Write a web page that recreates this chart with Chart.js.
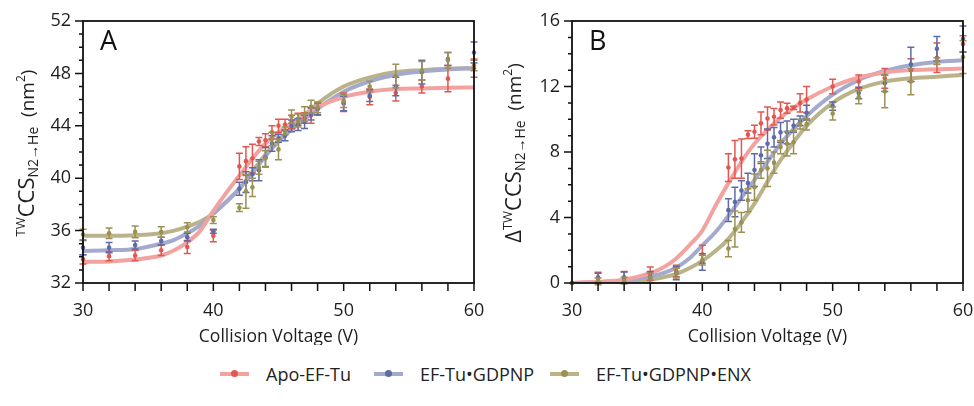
<!DOCTYPE html>
<html><head><meta charset="utf-8">
<script src="https://cdn.jsdelivr.net/npm/chart.js@4"></script>
<style>
body{margin:0;background:#fff;width:974px;height:406px;overflow:hidden;font-family:"Open Sans",sans-serif;position:relative}
#wa{position:absolute;left:0;top:0;width:487px;height:345px}
#wb{position:absolute;left:487px;top:0;width:487px;height:345px}
.item{position:absolute;top:362px;height:24px;display:flex;align-items:center;font-size:18px;color:#222;white-space:nowrap}
.sw{position:relative;width:29px;height:4px;margin-right:17px}
.sw i{position:absolute;left:11px;top:-2px;width:7px;height:7px;border-radius:50%}
</style></head>
<body>
<div id="wa"><canvas id="ca"></canvas></div>
<div id="wb"><canvas id="cb"></canvas></div>
<div id="legend"></div>
<script>
// ---------- data ----------
const voltages = [30,32,34,36,38,40,42,42.5,43,43.5,44,44.5,45,45.5,46,46.5,47,47.5,48,50,52,54,56,58,60];
const seriesNames = ['Apo-EF-Tu','EF-Tu\u2022GDPNP','EF-Tu\u2022GDPNP\u2022ENX'];

// Panel A: TW CCS (nm^2)
const apoA    = [33.8,34.05,34.1,34.5,34.75,35.6,40.9,41.3,41.5,42.8,42.9,43.5,44.0,44.1,44.3,44.5,44.6,44.8,45.3,45.8,46.2,46.5,47.0,47.6,48.4];
const apoAErr = [0.35,0.35,0.4,0.4,0.5,0.45,1.0,1.1,1.1,0.3,0.5,0.5,0.5,0.4,0.5,0.45,0.4,0.6,0.5,0.7,0.6,0.6,0.5,1.0,0.7];
const gdpA    = [34.7,34.7,34.9,35.2,35.5,35.95,39.2,39.7,40.3,40.6,41.6,42.65,43.05,43.25,44.0,44.1,44.3,44.9,45.3,45.7,46.3,47.0,48.1,49.1,49.6];
const gdpAErr = [0.55,0.4,0.3,0.3,0.3,0.15,0.5,0.8,0.5,0.8,0.75,0.6,0.3,0.4,0.45,0.45,0.5,0.45,0.45,0.55,0.45,0.7,0.9,0.5,0.8];
const enxA    = [35.7,35.8,35.9,35.9,36.25,36.8,37.75,39.0,39.3,40.8,41.5,43.0,42.2,43.6,44.7,44.4,44.9,45.45,45.4,45.9,47.0,47.8,48.2,49.0,48.6];
const enxAErr = [0.4,0.4,0.45,0.4,0.35,0.25,0.3,1.3,0.7,0.5,0.6,0.5,0.8,0.3,0.5,0.5,0.55,0.5,0.4,0.5,0.4,0.9,0.7,0.6,0.4];

// Panel B: delta TW CCS (nm^2)
const apoB    = [0,0.35,0.35,0.57,0.73,1.75,7.05,7.55,7.6,9.06,9.24,9.75,10.05,10.15,10.56,10.67,10.7,11.0,11.2,12.0,12.3,12.5,13.0,13.75,14.6];
const apoBErr = [0,0.3,0.35,0.4,0.35,0.55,0.85,1.15,1.2,0.24,0.4,0.7,0.7,0.5,0.5,0.3,0.1,0.55,0.8,0.45,0.4,0.6,0.7,0.9,0.5];
const gdpB    = [0,0.3,0.32,0.35,0.6,1.28,4.45,4.95,5.65,6.1,6.9,7.8,8.5,8.9,9.2,9.2,9.6,9.9,10.4,10.8,11.6,12.2,13.35,14.3,14.9];
const gdpBErr = [0,0.3,0.35,0.35,0.4,0.5,0.7,0.9,0.6,0.6,1.0,0.5,0.9,0.6,0.6,0.7,0.4,0.3,0.45,0.25,0.35,0.5,1.05,0.75,0.8];
const enxB    = [0,0.1,0.15,0.3,0.6,1.4,2.1,3.3,3.7,5.05,5.85,6.9,7.0,7.35,8.3,8.5,8.6,9.7,9.7,10.35,11.35,11.7,12.3,13.55,13.8];
const enxBErr = [0,0.2,0.2,0.3,0.3,0.3,0.5,1.1,0.6,0.7,0.8,0.5,1.1,0.65,0.4,0.75,0.7,0.3,0.35,0.4,0.4,1.0,0.8,0.2,1.0];

// fitted curves
const fitV     = [30,32,34,36,37,38,39,40,41,42,43,44,45,46,47,48,50,52,54,56,58,60];
const apoFitA  = [33.6,33.65,33.8,34.1,34.5,35.1,36.0,37.5,38.9,40.2,41.5,42.65,43.5,44.2,44.9,45.45,46.2,46.6,46.8,46.85,46.9,46.93];
const gdpFitA  = [34.45,34.5,34.6,35.0,35.3,35.8,36.4,37.3,38.2,39.2,40.4,41.7,42.8,43.7,44.5,45.3,46.6,47.4,47.9,48.15,48.3,48.4];
const enxFitA  = [35.6,35.6,35.65,35.8,36.0,36.3,36.7,37.3,38.2,39.2,40.5,41.8,42.9,43.9,44.8,45.7,47.0,47.7,48.1,48.25,48.35,48.4];
const apoFitB  = [0.02,0.08,0.2,0.6,0.95,1.5,2.3,3.2,4.7,6.1,7.4,8.5,9.35,10.1,10.7,11.2,12.0,12.55,12.85,13.0,13.05,13.1];
const gdpFitB  = [0,0.05,0.15,0.4,0.6,0.95,1.5,2.3,3.1,4.1,5.2,6.3,7.4,8.5,9.4,10.2,11.5,12.4,12.95,13.3,13.5,13.6];
const enxFitB  = [0,0.02,0.06,0.2,0.35,0.55,0.9,1.35,1.95,2.7,3.7,4.85,6.2,7.5,8.6,9.6,11.0,11.85,12.3,12.5,12.6,12.7];

const xTickMarks = [30,32,34,36,38,40,42,44,46,48,50,52,54,56,58,60];
const xTickLabels = [30,40,50,60];
const yTickLabelsA = [32,36,40,44,48,52];
const yTickLabelsB = [0,4,8,12,16];

// ---------- styles ----------
const dataColors  = ['#e2574f','#5f6aa6','#9a9152'];
const curveColors = ['#f2a3a0','#a4aacd','#bab389'];
const FONT = '"Open Sans", sans-serif';
const TXT = '#1e1e1e';

const errPlugin = {
  id:'errbars',
  afterDatasetDraw(chart, args){
    const ds = chart.data.datasets[args.index];
    if(!ds.err) return;
    const ctx = chart.ctx, xs = chart.scales.x, ys = chart.scales.y;
    ctx.save();
    ctx.strokeStyle = ds.pointBackgroundColor;
    ctx.lineWidth = 1.5;
    ds.data.forEach((p,i)=>{
      const e = ds.err[i]; if(!e) return;
      const px = xs.getPixelForValue(p.x);
      const y1 = ys.getPixelForValue(p.y+e), y2 = ys.getPixelForValue(p.y-e);
      ctx.beginPath();
      ctx.moveTo(px,y1); ctx.lineTo(px,y2);
      ctx.moveTo(px-3.5,y1); ctx.lineTo(px+3.5,y1);
      ctx.moveTo(px-3.5,y2); ctx.lineTo(px+3.5,y2);
      ctx.stroke();
    });
    ctx.restore();
  }
};

function drawRich(ctx, parts, cx, cy){
  ctx.save();
  ctx.translate(cx, cy);
  ctx.rotate(-Math.PI/2);
  let total = 0;
  parts.forEach(p=>{ ctx.font = p.s+'px '+FONT; p.w = ctx.measureText(p.t).width; total += p.w; });
  let x = -total/2;
  ctx.textBaseline = 'alphabetic';
  ctx.fillStyle = TXT;
  parts.forEach(p=>{ ctx.font = p.s+'px '+FONT; ctx.fillText(p.t, x, p.dy); x += p.w; });
  ctx.restore();
}

const framePlugin = {
  id:'frame',
  afterDraw(chart){
    const o = chart.options.plugins.frame;
    const ctx = chart.ctx, a = chart.chartArea, xs = chart.scales.x, ys = chart.scales.y;
    ctx.save();
    ctx.strokeStyle = '#111';
    ctx.lineWidth = 1.8;
    ctx.strokeRect(a.left, a.top, a.right-a.left, a.bottom-a.top);
    ctx.lineWidth = 1.5;
    ctx.beginPath();
    xTickMarks.forEach(v=>{ const px = xs.getPixelForValue(v); ctx.moveTo(px,a.bottom); ctx.lineTo(px,a.bottom+8); });
    for(let v=ys.min; v<=ys.max; v++){
      const py = ys.getPixelForValue(v);
      const len = o.yLabels.includes(v) ? 8 : 4;
      ctx.moveTo(a.left,py); ctx.lineTo(a.left-len,py);
    }
    ctx.stroke();
    // panel letter
    ctx.fillStyle = '#111';
    ctx.font = '27px '+FONT;
    ctx.textBaseline = 'alphabetic';
    ctx.fillText(o.letter, a.left+17, a.top+29);
    drawRich(ctx, o.title, o.titleX, o.titleY);
    ctx.restore();
  }
};

function makeChart(id, vals, errs, fits, yMin, yMax, yLabels, letter, title, titleX, yWidth, padRight){
  const datasets = [];
  fits.forEach((f,i)=>datasets.push({
    label: seriesNames[i]+' fit', data: fitV.map((v,j)=>({x:v,y:f[j]})),
    showLine:true, borderColor: curveColors[i], borderWidth:4, pointRadius:0,
    cubicInterpolationMode:'monotone', order: 10+i
  }));
  vals.forEach((arr,i)=>datasets.push({
    label: seriesNames[i], data: voltages.map((v,j)=>({x:v,y:arr[j]})), err: errs[i],
    showLine:false, pointRadius:2.3, pointBorderWidth:0,
    pointBackgroundColor: dataColors[i], backgroundColor: dataColors[i], borderColor: dataColors[i],
    order: 3-i, clip:false
  }));
  return new Chart(document.getElementById(id), {
    type:'scatter',
    data:{datasets},
    options:{
      responsive:true, maintainAspectRatio:false, animation:false, devicePixelRatio:1,
      layout:{padding:{left:0,right:padRight,top:21,bottom:0}},
      plugins:{legend:{display:false}, tooltip:{enabled:false},
        frame:{letter, title, titleX, titleY:153, yLabels}},
      scales:{
        x:{type:'linear', min:30, max:60,
          afterBuildTicks: s=>{ s.ticks = xTickMarks.map(v=>({value:v})); },
          ticks:{autoSkip:false, maxRotation:0, padding:0, color:TXT, font:{family:FONT,size:18},
            callback: v=> xTickLabels.includes(v) ? String(v) : ''},
          grid:{display:true, drawOnChartArea:false, drawTicks:true, tickLength:17, color:'rgba(0,0,0,0)'},
          border:{display:false},
          title:{display:true, text:'Collision Voltage (V)', color:TXT, font:{family:FONT,size:17.5}, padding:{top:0,bottom:-3}},
          afterFit: s=>{ s.height = 62; }
        },
        y:{type:'linear', min:yMin, max:yMax,
          afterBuildTicks: s=>{ const t=[]; for(let v=yMin; v<=yMax; v++) t.push({value:v}); s.ticks = t; },
          ticks:{autoSkip:false, padding:0, color:TXT, font:{family:FONT,size:18},
            callback: v=> yLabels.includes(v) ? String(v) : ''},
          grid:{display:true, drawOnChartArea:false, drawTicks:true, tickLength:12, color:'rgba(0,0,0,0)'},
          border:{display:false},
          afterFit: s=>{ s.width = yWidth; }
        }
      }
    },
    plugins:[errPlugin, framePlugin]
  });
}

const titleA = [
  {t:'TW', s:13, dy:-9},
  {t:'CCS', s:22, dy:0},
  {t:'N2\u2192He', s:14, dy:4},
  {t:'  (nm', s:19, dy:0},
  {t:'2', s:12, dy:-9},
  {t:')', s:19, dy:0}
];
const titleB = [
  {t:'\u0394', s:22, dy:0},
  {t:'TW', s:13, dy:-9},
  {t:'CCS', s:22, dy:0},
  {t:'N2\u2192He', s:14, dy:4},
  {t:'  (nm', s:19, dy:0},
  {t:'2', s:12, dy:-9},
  {t:')', s:19, dy:0}
];

makeChart('ca', [apoA,gdpA,enxA], [apoAErr,gdpAErr,enxAErr], [apoFitA,gdpFitA,enxFitA], 32, 52, yTickLabelsA, 'A', titleA, 34, 83, 13);
makeChart('cb', [apoB,gdpB,enxB], [apoBErr,gdpBErr,enxBErr], [apoFitB,gdpFitB,enxFitB], 0, 16, yTickLabelsB, 'B', titleB, 34, 85, 11);

// legend
const legendPos = [220, 374, 550];
const lg = document.getElementById('legend');
seriesNames.forEach((n,i)=>{
  const d = document.createElement('div');
  d.className = 'item';
  d.style.left = legendPos[i]+'px';
  d.innerHTML = '<span class="sw" style="background:'+curveColors[i]+'"><i style="background:'+dataColors[i]+'"></i></span>'+n;
  lg.appendChild(d);
});
</script>
</body></html>
